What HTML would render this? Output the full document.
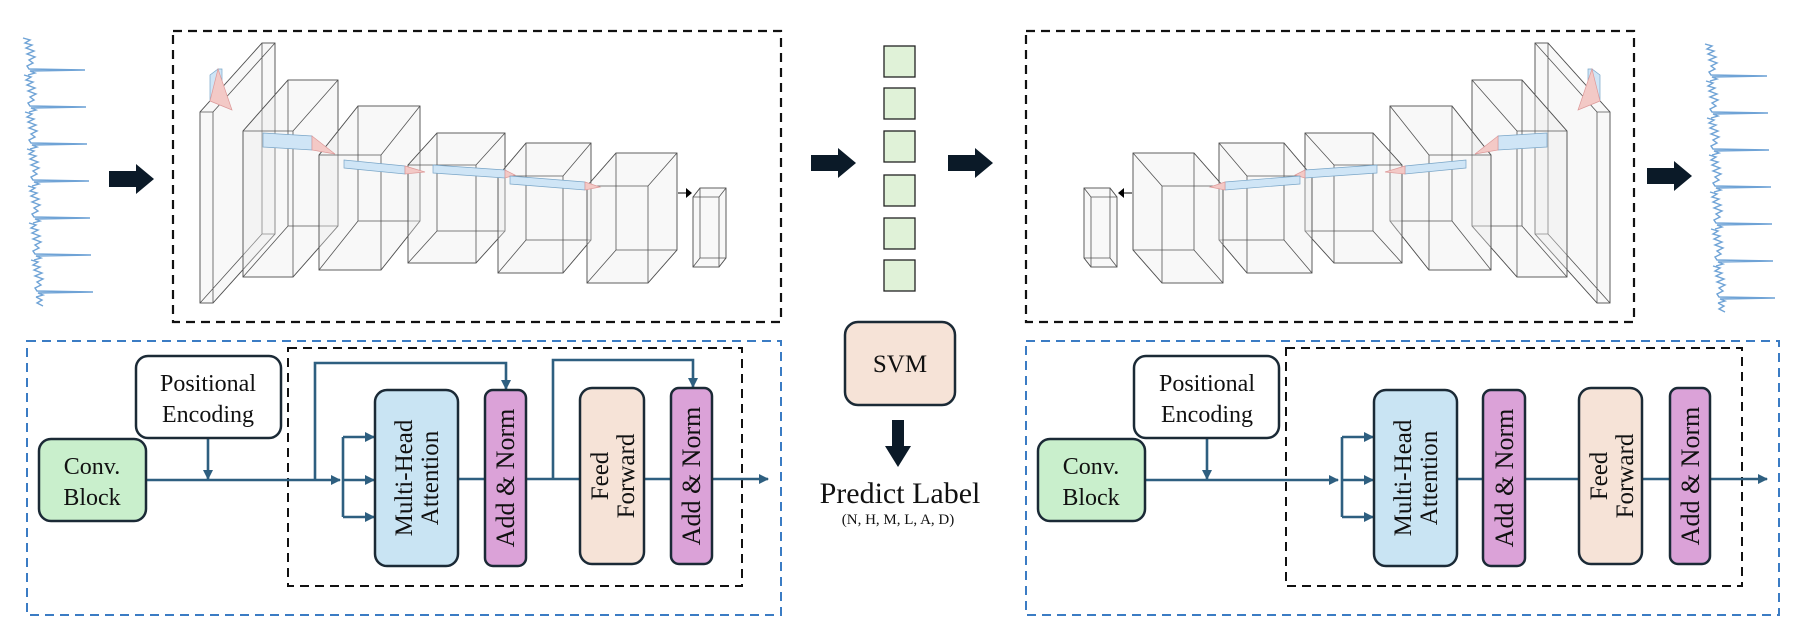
<!DOCTYPE html>
<html><head><meta charset="utf-8"><style>
html,body{margin:0;padding:0;background:#fff;}
svg{display:block;}
text{font-family:"Liberation Serif",serif;fill:#111;}
</style></head><body>
<svg width="1804" height="630" viewBox="0 0 1804 630" xmlns="http://www.w3.org/2000/svg">
<defs>
  <path id="beat" d="M0 0 L7 2 L2 5 L9 7 L3 10 L11 13 L4 16 L12 19 L6 22 L10 25 L4 28 L6 31 L62 32 L7 33 L12 35 L5 37" fill="none" stroke="#6fa3d6" stroke-width="1.4"/>
  <g id="cnn">
    <g fill="rgba(235,235,235,0.35)" stroke="#555" stroke-width="0.8">
      <polygon points="200,112 262,43 275,43 275,234 213,303 200,303"/>
      <path d="M200 112H213V303H200Z M262 43H275V234H262Z M200 112L262 43 M213 112L275 43 M213 303L275 234 M200 303L262 234" fill="none"/>
      <polygon points="243,131 288,80 338,80 338,226 293,277 243,277"/>
      <path d="M243 131H293V277H243Z M288 80H338V226H288Z M243 131L288 80 M293 131L338 80 M293 277L338 226 M243 277L288 226" fill="none"/>
      <polygon points="319,155 358,106 420,106 420,221 381,270 319,270"/>
      <path d="M319 155H381V270H319Z M358 106H420V221H358Z M319 155L358 106 M381 155L420 106 M381 270L420 221 M319 270L358 221" fill="none"/>
      <polygon points="408,165 437,133 505,133 505,231 476,263 408,263"/>
      <path d="M408 165H476V263H408Z M437 133H505V231H437Z M408 165L437 133 M476 165L505 133 M476 263L505 231 M408 263L437 231" fill="none"/>
      <polygon points="498,176 526,143 591,143 591,240 563,273 498,273"/>
      <path d="M498 176H563V273H498Z M526 143H591V240H526Z M498 176L526 143 M563 176L591 143 M563 273L591 240 M498 273L526 240" fill="none"/>
      <polygon points="587,186 616,153 677,153 677,250 648,283 587,283"/>
      <path d="M587 186H648V283H587Z M616 153H677V250H616Z M587 186L616 153 M648 186L677 153 M648 283L677 250 M587 283L616 250" fill="none"/>
      <polygon points="693,197 700,188 726,188 726,258 719,267 693,267"/>
      <path d="M693 197H719V267H693Z M700 188H726V258H700Z M693 197L700 188 M719 197L726 188 M719 267L726 258 M693 267L700 258" fill="none"/>
    </g>
    <g stroke="#7aa6c8" stroke-width="0.7">
      <polygon points="210,75 218,69 222,69 222,101 210,101" fill="#cfe5f6"/>
      <polygon points="218,69 232,110 210,101" fill="#f3c9c6" stroke="#d99"/>
      <polygon points="263,133 312,136 312,150 263,147" fill="#cfe5f6"/>
      <polygon points="312,136 335,154 312,150" fill="#f3c9c6" stroke="#d99"/>
      <polygon points="344,160 405,166 405,174 344,168" fill="#cfe5f6"/>
      <polygon points="405,166 425,172 405,174" fill="#f3c9c6" stroke="#d99"/>
      <polygon points="433,165 505,170 505,178 433,173" fill="#cfe5f6"/>
      <polygon points="505,170 515,175 505,178" fill="#f3c9c6" stroke="#d99"/>
      <polygon points="510,176 585,182 585,190 510,184" fill="#cfe5f6"/>
      <polygon points="585,182 600,187 585,190" fill="#f3c9c6" stroke="#d99"/>
    </g>
    <line x1="678" y1="193" x2="689" y2="193" stroke="#000" stroke-width="1"/>
    <polygon points="686,188 692,193 686,198" fill="#000"/>
  </g>
  <g id="bigarrow"><rect x="0" y="-8" width="27" height="16" fill="#0b1a28"/><polygon points="27,-15 45,0 27,15" fill="#0b1a28"/></g>
  <marker id="ah" markerWidth="10" markerHeight="10" refX="9" refY="5" orient="auto" markerUnits="userSpaceOnUse"><polygon points="0,0 10,5 0,10" fill="#2e5f80"/></marker>
</defs>

<!-- ECG left -->
<g transform="translate(23,38)">
  <use href="#beat" y="0"/><use href="#beat" x="1" y="37"/><use href="#beat" x="2" y="74"/><use href="#beat" x="4" y="111"/><use href="#beat" x="5" y="148"/><use href="#beat" x="6" y="185"/><use href="#beat" x="8" y="222"/>
  <path d="M13 259 L19 262 L14 265 L20 268" fill="none" stroke="#6fa3d6" stroke-width="1.4"/>
</g>
<!-- ECG right -->
<g transform="translate(1705,44)">
  <use href="#beat" y="0"/><use href="#beat" x="1" y="37"/><use href="#beat" x="2" y="74"/><use href="#beat" x="4" y="111"/><use href="#beat" x="5" y="148"/><use href="#beat" x="6" y="185"/><use href="#beat" x="8" y="222"/>
  <path d="M13 259 L19 262 L14 265 L20 268" fill="none" stroke="#6fa3d6" stroke-width="1.4"/>
</g>

<use href="#bigarrow" transform="translate(109,179)"/>
<use href="#bigarrow" transform="translate(811,163)"/>
<use href="#bigarrow" transform="translate(948,163)"/>
<use href="#bigarrow" transform="translate(1647,176)"/>

<rect x="173" y="31" width="608" height="291" fill="none" stroke="#111" stroke-width="2.2" stroke-dasharray="9,6"/>
<use href="#cnn"/>
<rect x="1026" y="31" width="608" height="291" fill="none" stroke="#111" stroke-width="2.2" stroke-dasharray="9,6"/>
<use href="#cnn" transform="translate(1810,0) scale(-1,1)"/>

<g fill="#e0f2d8" stroke="#222" stroke-width="1.3">
  <rect x="884" y="46" width="31" height="31"/><rect x="884" y="88" width="31" height="31"/><rect x="884" y="131" width="31" height="31"/><rect x="884" y="175" width="31" height="31"/><rect x="884" y="218" width="31" height="31"/><rect x="884" y="260" width="31" height="31"/>
</g>
<rect x="845" y="322" width="110" height="83" rx="13" fill="#f6e3d7" stroke="#1b2a36" stroke-width="2.5"/>
<text x="900" y="372" font-size="25" text-anchor="middle">SVM</text>
<rect x="892" y="420" width="12" height="28" fill="#0b1a28"/>
<polygon points="885,446 911,446 898,467" fill="#0b1a28"/>
<text x="900" y="503" font-size="30" text-anchor="middle">Predict Label</text>
<text x="898" y="524" font-size="15" text-anchor="middle">(N, H, M, L, A, D)</text>

<!-- Left encoder -->
<g>
<rect x="27" y="341" width="754" height="274" fill="none" stroke="#3b7cc4" stroke-width="2" stroke-dasharray="9,6"/>
<rect x="288" y="348" width="454" height="238" fill="none" stroke="#111" stroke-width="2" stroke-dasharray="9,6"/>
<g stroke="#2e5f80" stroke-width="2.6" fill="none">
  <line x1="146" y1="480" x2="340" y2="480" marker-end="url(#ah)"/>
  <line x1="208" y1="438" x2="208" y2="479" marker-end="url(#ah)"/>
  <polyline points="343,437 343,517"/>
  <line x1="343" y1="437" x2="374" y2="437" marker-end="url(#ah)"/>
  <line x1="343" y1="480" x2="374" y2="480" marker-end="url(#ah)"/>
  <line x1="343" y1="517" x2="374" y2="517" marker-end="url(#ah)"/>
  <polyline points="315,480 315,363 506,363 506,389" marker-end="url(#ah)"/>
  <line x1="458" y1="479" x2="580" y2="479"/>
  <polyline points="553,479 553,360 693,360 693,387" marker-end="url(#ah)"/>
  <line x1="644" y1="479" x2="672" y2="479"/>
  <line x1="712" y1="479" x2="768" y2="479" marker-end="url(#ah)"/>
</g>
<rect x="136" y="356" width="145" height="82" rx="12" fill="#fff" stroke="#1b2a36" stroke-width="2.5"/>
<text x="208" y="391" font-size="24" text-anchor="middle">Positional</text>
<text x="208" y="422" font-size="24" text-anchor="middle">Encoding</text>
<rect x="39" y="439" width="107" height="82" rx="12" fill="#c9efcc" stroke="#1b2a36" stroke-width="2.5"/>
<text x="92" y="474" font-size="24" text-anchor="middle">Conv.</text>
<text x="92" y="505" font-size="24" text-anchor="middle">Block</text>
<rect x="375" y="390" width="83" height="176" rx="12" fill="#c9e4f3" stroke="#1b2a36" stroke-width="2.5"/>
<text transform="translate(416,478) rotate(-90)" font-size="25" text-anchor="middle"><tspan x="0" y="-4">Multi-Head</tspan><tspan x="0" y="22">Attention</tspan></text>
<rect x="485" y="390" width="41" height="176" rx="8" fill="#dba2d8" stroke="#1b2a36" stroke-width="2.5"/>
<text transform="translate(514,478) rotate(-90)" font-size="26" text-anchor="middle">Add &amp; Norm</text>
<rect x="580" y="388" width="64" height="176" rx="12" fill="#f6e3d7" stroke="#1b2a36" stroke-width="2.5"/>
<text transform="translate(612,476) rotate(-90)" font-size="25" text-anchor="middle"><tspan x="0" y="-4">Feed</tspan><tspan x="0" y="22">Forward</tspan></text>
<rect x="671" y="388" width="41" height="176" rx="8" fill="#dba2d8" stroke="#1b2a36" stroke-width="2.5"/>
<text transform="translate(700,476) rotate(-90)" font-size="26" text-anchor="middle">Add &amp; Norm</text>
</g>

<!-- Right encoder -->
<g>
<rect x="1026" y="341" width="753" height="274" fill="none" stroke="#3b7cc4" stroke-width="2" stroke-dasharray="9,6"/>
<rect x="1286" y="348" width="456" height="238" fill="none" stroke="#111" stroke-width="2" stroke-dasharray="9,6"/>
<g stroke="#2e5f80" stroke-width="2.6" fill="none">
  <line x1="1145" y1="480" x2="1338" y2="480" marker-end="url(#ah)"/>
  <line x1="1207" y1="438" x2="1207" y2="479" marker-end="url(#ah)"/>
  <polyline points="1342,437 1342,517"/>
  <line x1="1342" y1="437" x2="1373" y2="437" marker-end="url(#ah)"/>
  <line x1="1342" y1="480" x2="1373" y2="480" marker-end="url(#ah)"/>
  <line x1="1342" y1="517" x2="1373" y2="517" marker-end="url(#ah)"/>
  <line x1="1456" y1="479" x2="1579" y2="479"/>
  <line x1="1642" y1="479" x2="1670" y2="479"/>
  <line x1="1710" y1="479" x2="1767" y2="479" marker-end="url(#ah)"/>
</g>
<rect x="1134" y="356" width="145" height="82" rx="12" fill="#fff" stroke="#1b2a36" stroke-width="2.5"/>
<text x="1207" y="391" font-size="24" text-anchor="middle">Positional</text>
<text x="1207" y="422" font-size="24" text-anchor="middle">Encoding</text>
<rect x="1038" y="439" width="107" height="82" rx="12" fill="#c9efcc" stroke="#1b2a36" stroke-width="2.5"/>
<text x="1091" y="474" font-size="24" text-anchor="middle">Conv.</text>
<text x="1091" y="505" font-size="24" text-anchor="middle">Block</text>
<rect x="1374" y="390" width="83" height="176" rx="12" fill="#c9e4f3" stroke="#1b2a36" stroke-width="2.5"/>
<text transform="translate(1415,478) rotate(-90)" font-size="25" text-anchor="middle"><tspan x="0" y="-4">Multi-Head</tspan><tspan x="0" y="22">Attention</tspan></text>
<rect x="1483" y="390" width="42" height="176" rx="8" fill="#dba2d8" stroke="#1b2a36" stroke-width="2.5"/>
<text transform="translate(1513,478) rotate(-90)" font-size="26" text-anchor="middle">Add &amp; Norm</text>
<rect x="1579" y="388" width="63" height="176" rx="12" fill="#f6e3d7" stroke="#1b2a36" stroke-width="2.5"/>
<text transform="translate(1611,476) rotate(-90)" font-size="25" text-anchor="middle"><tspan x="0" y="-4">Feed</tspan><tspan x="0" y="22">Forward</tspan></text>
<rect x="1670" y="388" width="40" height="176" rx="8" fill="#dba2d8" stroke="#1b2a36" stroke-width="2.5"/>
<text transform="translate(1699,476) rotate(-90)" font-size="26" text-anchor="middle">Add &amp; Norm</text>
</g>
</svg>
</body></html>
